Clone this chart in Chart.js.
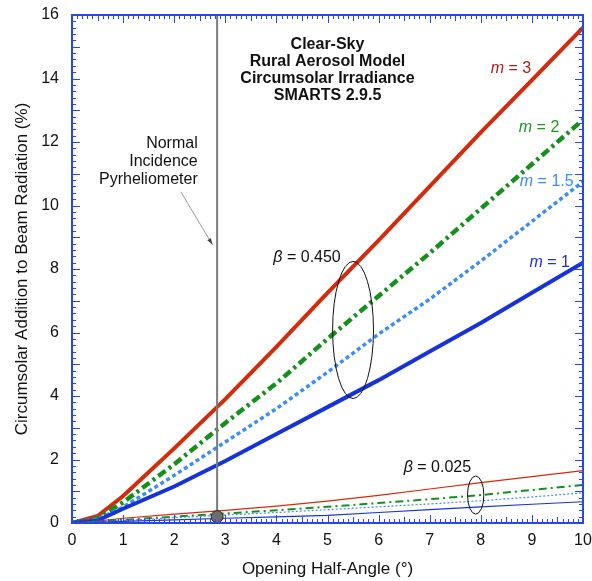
<!DOCTYPE html>
<html>
<head>
<meta charset="utf-8">
<script src="https://cdn.jsdelivr.net/npm/chart.js@4/dist/chart.umd.min.js"></script>
<style>
  html, body { margin: 0; padding: 0; background: #fff; }
  #wrap { width: 592px; height: 581px; }
</style>
</head>
<body>
<div id="wrap"><canvas id="circumsolarChart"></canvas></div>
<script>
// opening half-angle (deg)
const angles = [0, 0.5, 1, 2, 3, 4, 5, 6, 7, 8, 9, 10];

// beta = 0.450
const hazyM3 = [0, 0.22, 0.85, 2.35, 3.9, 5.55, 7.25, 8.9, 10.6, 12.3, 13.95, 15.6];
const hazyM2 = [0, 0.15, 0.65, 1.85, 3.15, 4.4, 5.8, 7.15, 8.5, 9.9, 11.3, 12.7];
const hazyM15 = [0, 0.12, 0.5, 1.5, 2.55, 3.6, 4.75, 5.95, 7.05, 8.25, 9.5, 10.75];
const hazyM1 = [0, 0.08, 0.45, 1.15, 1.95, 2.8, 3.65, 4.5, 5.4, 6.3, 7.25, 8.2];

// beta = 0.025
const clearM3 = [0, 0.06, 0.15, 0.28, 0.4, 0.53, 0.69, 0.87, 1.07, 1.27, 1.46, 1.65];
const clearM2 = [0, 0.04, 0.1, 0.2, 0.3, 0.4, 0.51, 0.63, 0.75, 0.88, 1.04, 1.2];
const clearM15 = [0, 0.03, 0.08, 0.17, 0.25, 0.33, 0.42, 0.51, 0.6, 0.7, 0.82, 0.95];
const clearM1 = [0, 0.02, 0.05, 0.1, 0.15, 0.19, 0.24, 0.33, 0.42, 0.51, 0.59, 0.67];

const pyrheliometerAngle = 2.84;

const FONT = "'Liberation Sans', Arial, Helvetica, sans-serif";
const RED = "#d52b0b";
const GREEN = "#16901c";
const LIGHTBLUE = "#3c8ef5";
const BLUE = "#1533d8";
const FRAME = "#2747e8";

function toPoints(ys) {
    return angles.map((a, i) => ({ x: a, y: ys[i] }));
}

function line(data, color, width, dash) {
    return {
        data: toPoints(data),
        borderColor: color,
        borderWidth: width,
        borderDash: dash || [],
        pointRadius: 0,
        tension: 0,
        fill: false
    };
}

// annotation text, in data units
const notes = {
    title: { x: 5.0, y: [15.06, 14.52, 14.0, 13.45],
             lines: ["Clear-Sky", "Rural Aerosol Model", "Circumsolar Irradiance", "SMARTS 2.9.5"] },
    nip: { x: 2.46, y: [11.94, 11.37, 10.83], lines: ["Normal", "Incidence", "Pyrheliometer"] },
    mLabels: [
        { x: 8.59, y: 14.3, value: "3", color: "#a8231a" },
        { x: 9.14, y: 12.44, value: "2", color: "#1b9a1b" },
        { x: 9.29, y: 10.74, value: "1.5", color: "#3a8ef0" },
        { x: 9.35, y: 8.19, value: "1", color: "#1f2fd0" }
    ],
    betas: [
        { x: 4.6, y: 8.35, value: "0.450", ex: 5.5, ey: 6.08, rx: 0.4, ry: 2.16 },
        { x: 7.15, y: 1.76, value: "0.025", ex: 7.9, ey: 0.88, rx: 0.16, ry: 0.6 }
    ],
    arrow: { x1: 2.13, y1: 10.43, x2: 2.75, y2: 8.76 },
    marker: { x: pyrheliometerAngle, y: 0.2 }
};

function mixedText(ctx, italicPart, rest, cx, cy, color) {
    ctx.font = "italic 16px " + FONT;
    const w1 = ctx.measureText(italicPart).width;
    ctx.font = "16px " + FONT;
    const w2 = ctx.measureText(rest).width;
    const start = cx - (w1 + w2) / 2;
    ctx.fillStyle = color;
    ctx.textAlign = "left";
    ctx.textBaseline = "middle";
    ctx.font = "italic 16px " + FONT;
    ctx.fillText(italicPart, start, cy);
    ctx.font = "16px " + FONT;
    ctx.fillText(rest, start + w1, cy);
}

const framePlugin = {
    id: "frameAndNotes",
    afterDatasetsDraw(chart) {
        const { ctx, chartArea: a, scales: { x, y } } = chart;
        ctx.save();

        // pyrheliometer line + marker
        const px = x.getPixelForValue(pyrheliometerAngle);
        const my = y.getPixelForValue(notes.marker.y);
        ctx.strokeStyle = "#7a7a7a";
        ctx.lineWidth = 2;
        ctx.beginPath();
        ctx.moveTo(px, a.top);
        ctx.lineTo(px, my);
        ctx.stroke();
        ctx.beginPath();
        ctx.arc(px, my, 6, 0, Math.PI * 2);
        ctx.fillStyle = "#6e6e6e";
        ctx.fill();
        ctx.lineWidth = 1;
        ctx.strokeStyle = "#222";
        ctx.stroke();

        // arrow
        const ax1 = x.getPixelForValue(notes.arrow.x1), ay1 = y.getPixelForValue(notes.arrow.y1);
        const ax2 = x.getPixelForValue(notes.arrow.x2), ay2 = y.getPixelForValue(notes.arrow.y2);
        ctx.strokeStyle = "#999";
        ctx.fillStyle = "#444";
        ctx.lineWidth = 1;
        ctx.beginPath();
        ctx.moveTo(ax1, ay1);
        ctx.lineTo(ax2, ay2);
        ctx.stroke();
        const ang = Math.atan2(ay2 - ay1, ax2 - ax1);
        ctx.beginPath();
        ctx.moveTo(ax2, ay2);
        ctx.lineTo(ax2 - 7 * Math.cos(ang - 0.3), ay2 - 7 * Math.sin(ang - 0.3));
        ctx.lineTo(ax2 - 7 * Math.cos(ang + 0.3), ay2 - 7 * Math.sin(ang + 0.3));
        ctx.closePath();
        ctx.fill();

        // ellipses
        ctx.strokeStyle = "#111";
        ctx.lineWidth = 1;
        notes.betas.forEach(b => {
            const cx = x.getPixelForValue(b.ex), cy = y.getPixelForValue(b.ey);
            const rx = x.getPixelForValue(b.ex + b.rx) - cx;
            const ry = cy - y.getPixelForValue(b.ey + b.ry);
            ctx.beginPath();
            ctx.ellipse(cx, cy, rx, ry, 0, 0, Math.PI * 2);
            ctx.stroke();
            mixedText(ctx, "\u03b2", " = " + b.value, x.getPixelForValue(b.x), y.getPixelForValue(b.y), "#111");
        });

        // m labels
        notes.mLabels.forEach(m => {
            mixedText(ctx, "m", " = " + m.value, x.getPixelForValue(m.x), y.getPixelForValue(m.y), m.color);
        });

        // title block
        ctx.fillStyle = "#111";
        ctx.textBaseline = "middle";
        ctx.textAlign = "center";
        ctx.font = "bold 16px " + FONT;
        notes.title.lines.forEach((t, i) => {
            ctx.fillText(t, x.getPixelForValue(notes.title.x), y.getPixelForValue(notes.title.y[i]));
        });
        ctx.textAlign = "right";
        ctx.font = "16px " + FONT;
        notes.nip.lines.forEach((t, i) => {
            ctx.fillText(t, x.getPixelForValue(notes.nip.x), y.getPixelForValue(notes.nip.y[i]));
        });

        // inward ticks on all four sides
        ctx.strokeStyle = FRAME;
        ctx.lineWidth = 1;
        ctx.beginPath();
        for (let i = 0; i <= 100; i++) {
            const len = i % 10 === 0 ? 8 : (i % 5 === 0 ? 6 : 4);
            const tx = Math.round(x.getPixelForValue(i / 10)) + 0.5;
            ctx.moveTo(tx, a.bottom);
            ctx.lineTo(tx, a.bottom - len);
            ctx.moveTo(tx, a.top);
            ctx.lineTo(tx, a.top + len);
        }
        for (let i = 0; i <= 80; i++) {
            const len = i % 5 === 0 ? 8 : 4;
            const ty = Math.round(y.getPixelForValue(i / 5)) + 0.5;
            ctx.moveTo(a.left, ty);
            ctx.lineTo(a.left + len, ty);
            ctx.moveTo(a.right, ty);
            ctx.lineTo(a.right - len, ty);
        }
        ctx.stroke();
        ctx.lineWidth = 2;
        ctx.strokeRect(a.left, a.top, a.right - a.left, a.bottom - a.top);
        ctx.restore();
    }
};

const ctx = document.getElementById("circumsolarChart").getContext("2d");
new Chart(ctx, {
    type: "line",
    data: {
        datasets: [
            line(clearM1, BLUE, 1.2),
            line(clearM15, LIGHTBLUE, 1.2, [2, 2]),
            line(clearM2, GREEN, 2, [8, 4, 2, 4]),
            line(clearM3, RED, 1.2),
            line(hazyM1, BLUE, 4),
            line(hazyM15, LIGHTBLUE, 3.5, [4, 3]),
            line(hazyM2, GREEN, 4.5, [9, 4, 3, 4]),
            line(hazyM3, RED, 4)
        ]
    },
    options: {
        responsive: true,
        maintainAspectRatio: false,
        animation: false,
        layout: { padding: { top: 15, right: 9, left: 0, bottom: 0 } },
        plugins: { legend: { display: false }, tooltip: { enabled: false } },
        scales: {
            x: {
                type: "linear",
                min: 0,
                max: 10,
                afterFit: s => { s.height = 58; s.paddingLeft = 0; s.paddingRight = 0; },
                grid: { display: false, drawTicks: false },
                border: { display: false },
                ticks: { stepSize: 1, color: "#111", padding: 8, font: { family: FONT, size: 16 } },
                title: {
                    display: true,
                    text: "Opening Half-Angle (\u00b0)",
                    color: "#111",
                    font: { family: FONT, size: 17 },
                    padding: { top: 0, bottom: 1 }
                }
            },
            y: {
                min: 0,
                max: 16,
                afterFit: s => { s.width = 72; s.paddingTop = 0; s.paddingBottom = 0; },
                grid: { display: false, drawTicks: false },
                border: { display: false },
                ticks: { stepSize: 2, color: "#111", padding: 13, font: { family: FONT, size: 16 } },
                title: {
                    display: true,
                    text: "Circumsolar Addition to Beam Radiation (%)",
                    color: "#111",
                    font: { family: FONT, size: 17 },
                    padding: { top: 12, bottom: 0 }
                }
            }
        }
    },
    plugins: [framePlugin]
});
</script>
</body>
</html>
